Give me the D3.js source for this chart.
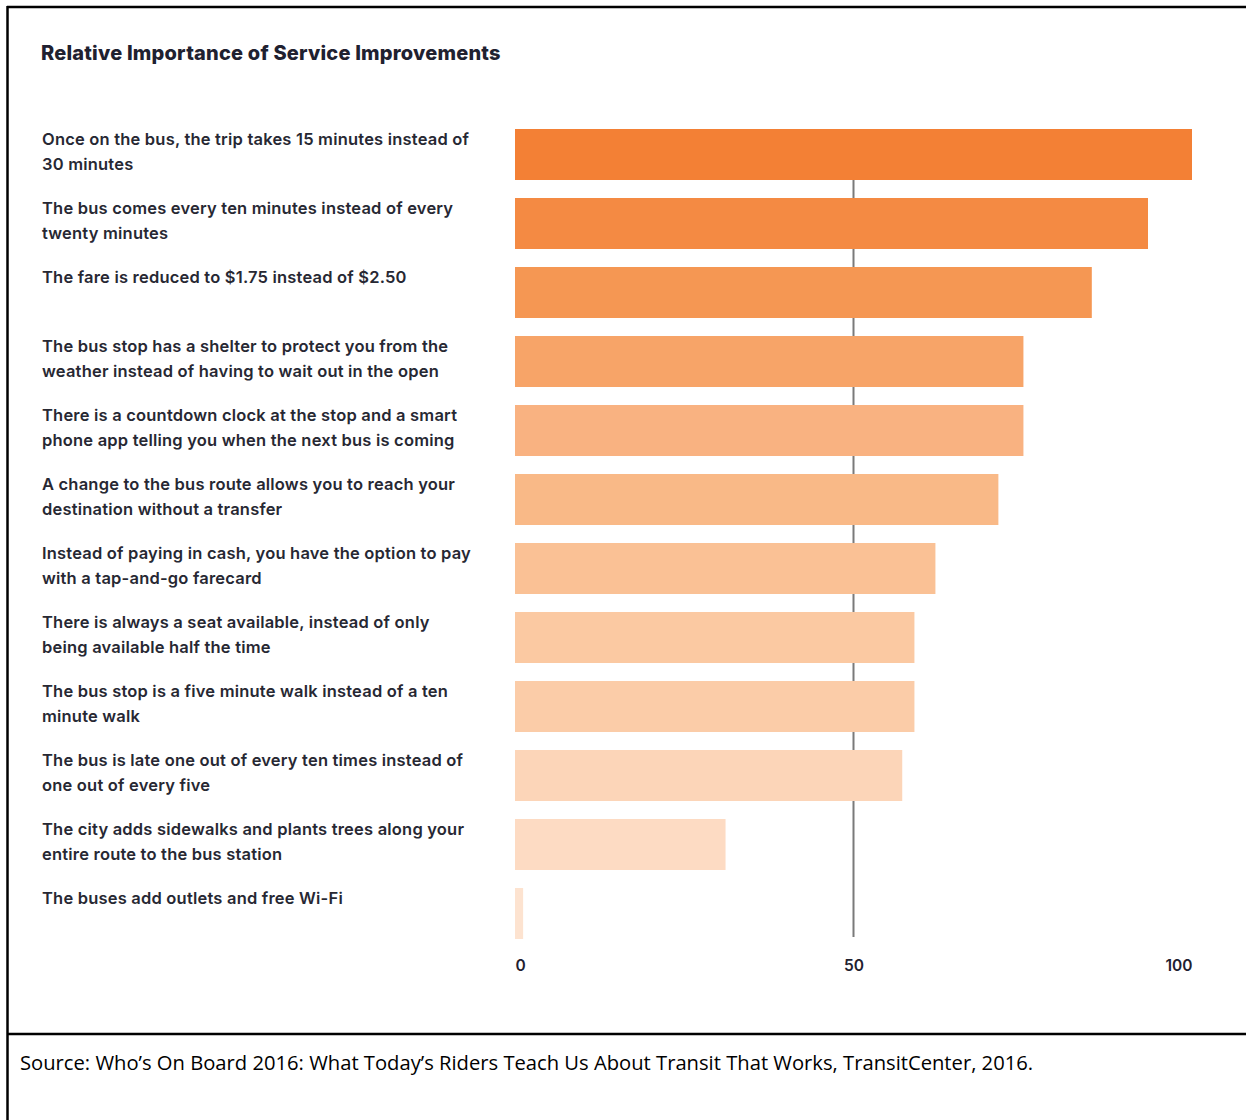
<!DOCTYPE html>
<html>
<head>
<meta charset="utf-8">
<script src="https://cdn.jsdelivr.net/npm/d3@7"></script>
<style>
    body { margin: 0; background: #fff; }
    svg { display: block; }
</style>
</head>
<body>
<div id="chart"></div>
<script>
// labels, with the line breaks used in the original
const categories = [
    "Once on the bus, the trip takes 15 minutes instead of\n30 minutes",
    "The bus comes every ten minutes instead of every\ntwenty minutes",
    "The fare is reduced to $1.75 instead of $2.50",
    "The bus stop has a shelter to protect you from the\nweather instead of having to wait out in the open",
    "There is a countdown clock at the stop and a smart\nphone app telling you when the next bus is coming",
    "A change to the bus route allows you to reach your\ndestination without a transfer",
    "Instead of paying in cash, you have the option to pay\nwith a tap-and-go farecard",
    "There is always a seat available, instead of only\nbeing available half the time",
    "The bus stop is a five minute walk instead of a ten\nminute walk",
    "The bus is late one out of every ten times instead of\none out of every five",
    "The city adds sidewalks and plants trees along your\nentire route to the bus station",
    "The buses add outlets and free Wi-Fi"
];
const values = [100, 93.5, 85.2, 75.1, 75.1, 71.4, 62.1, 59.0, 59.0, 57.2, 31.1, 1.2];
const barColors = [
    "#f38035", "#f48a43", "#f59753", "#f7a468", "#f9b281", "#f9b987",
    "#fac195", "#fbc9a2", "#fbcca8", "#fcd5b8", "#fddbc3", "#fde3d0"
];
const tickValues = [0, 50, 100];
const title = "Relative Importance of Service Improvements";
const source = "Source: Who\u2019s On Board 2016: What Today\u2019s Riders Teach Us About Transit That Works, TransitCenter, 2016.";

const width = 1246, height = 1120;
const labelFont = "Inter, 'Noto Sans', sans-serif";

const svg = d3.select("#chart").append("svg")
    .attr("width", width)
    .attr("height", height);

// frame
svg.append("line").attr("x1", 7).attr("x2", width).attr("y1", 7).attr("y2", 7)
    .attr("stroke", "#000").attr("stroke-width", 2.5);
svg.append("line").attr("x1", 7.5).attr("x2", 7.5).attr("y1", 6).attr("y2", height)
    .attr("stroke", "#000").attr("stroke-width", 2.5);
svg.append("line").attr("x1", 7).attr("x2", width).attr("y1", 1034).attr("y2", 1034)
    .attr("stroke", "#000").attr("stroke-width", 2.5);

svg.append("text")
    .attr("x", 41).attr("y", 60)
    .attr("font-family", labelFont)
    .attr("font-weight", 800)
    .attr("font-size", 20)
    .attr("letter-spacing", 0.2)
    .attr("fill", "#1f2130")
    .text(title);

const x = d3.scaleLinear().domain([0, 100]).range([515, 1192]);
const y = d3.scaleBand()
    .domain(d3.range(categories.length))
    .range([129, 939])
    .paddingInner(18 / 69)
    .paddingOuter(0);

// reference line at 50
svg.append("line")
    .attr("x1", x(50)).attr("x2", x(50))
    .attr("y1", y(0) + 10).attr("y2", 937)
    .attr("stroke", "#7a7a7a")
    .attr("stroke-width", 2);

svg.append("g")
    .selectAll("rect")
    .data(values)
    .join("rect")
    .attr("x", x(0))
    .attr("y", (d, i) => y(i))
    .attr("width", d => x(d) - x(0))
    .attr("height", y.bandwidth())
    .attr("fill", (d, i) => barColors[i]);

// category labels
const labels = svg.append("g")
    .attr("font-family", labelFont)
    .attr("font-weight", 600)
    .attr("font-size", 16.5)
    .attr("letter-spacing", 0.2)
    .attr("fill", "#272833");

labels.selectAll("text")
    .data(categories)
    .join("text")
    .attr("x", 42)
    .attr("y", (d, i) => y(i) + 16)
    .each(function (d) {
        d3.select(this).selectAll("tspan")
            .data(d.split("\n"))
            .join("tspan")
            .attr("x", 42)
            .attr("dy", (t, j) => j === 0 ? 0 : 25)
            .text(t => t);
    });

// x axis: end labels sit inside the range
const xAxis = svg.append("g")
    .attr("transform", "translate(0,956)")
    .call(d3.axisBottom(x).tickValues(tickValues).tickSize(0).tickPadding(4));
xAxis.select(".domain").remove();
xAxis.selectAll("text")
    .attr("font-family", labelFont)
    .attr("font-weight", 600)
    .attr("font-size", 15.5)
    .attr("fill", "#1f2130")
    .attr("text-anchor", d => d === 0 ? "start" : d === 100 ? "end" : "middle");

svg.append("text")
    .attr("x", 20).attr("y", 1070)
    .attr("font-family", "'Open Sans', sans-serif")
    .attr("font-size", 20.2)
    .attr("fill", "#000")
    .text(source);
</script>
</body>
</html>
